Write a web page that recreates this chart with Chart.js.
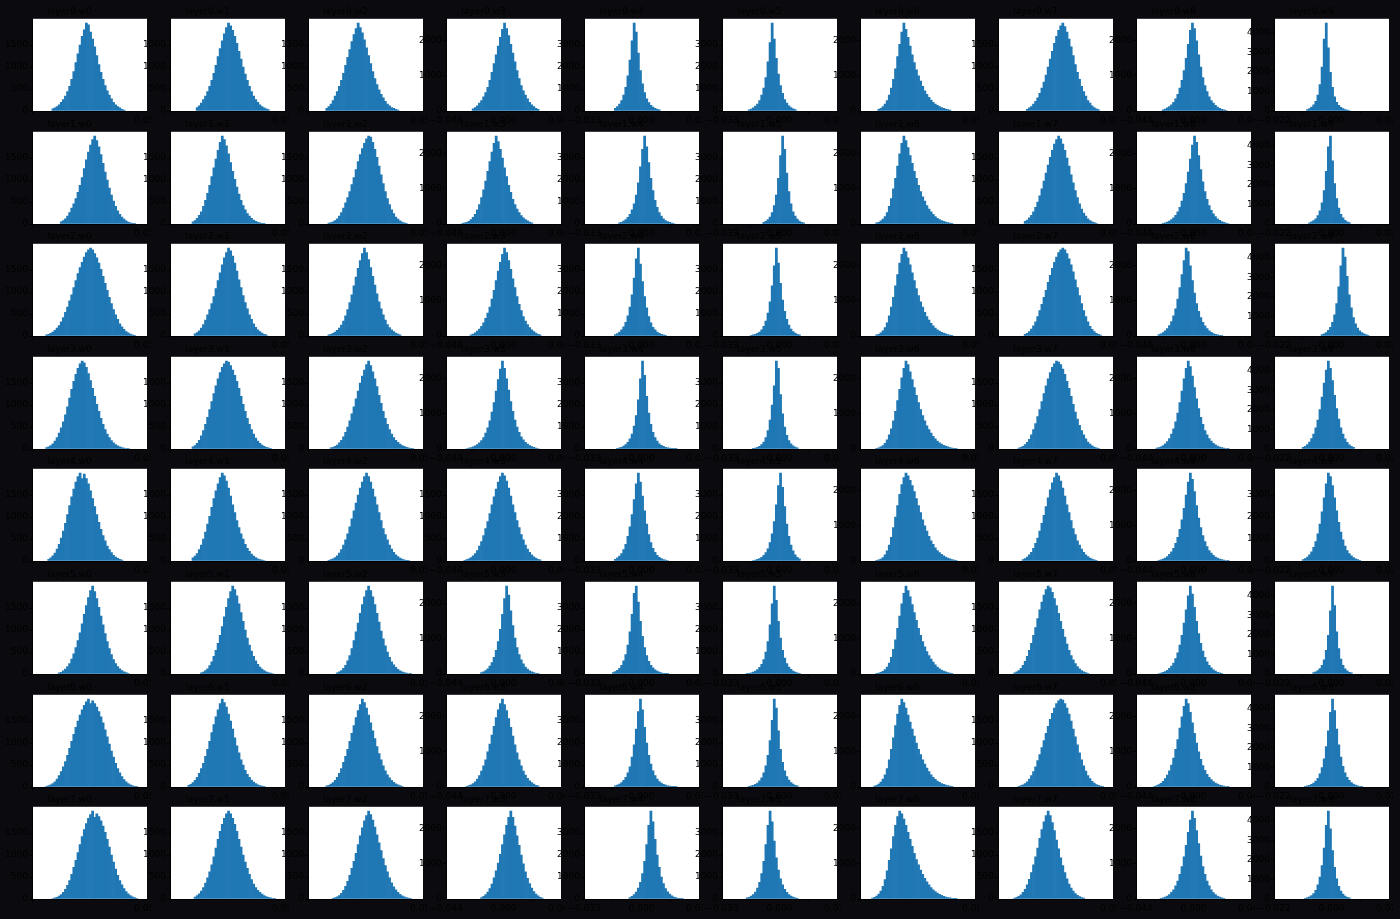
<!DOCTYPE html>
<html>
<head>
<meta charset="utf-8">
<script src="https://cdn.jsdelivr.net/npm/chart.js@4.4.1/dist/chart.umd.min.js"></script>
<style>
  html, body { margin: 0; padding: 0; background: rgb(11,11,15); }
  #wrap { position: relative; width: 1400px; height: 919px; overflow: hidden; background: rgb(11,11,15); }
  canvas { position: absolute; }
</style>
</head>
<body>
<div id="wrap"></div>
<script>
// ---------------- data ----------------
const NROWS = 8, NCOLS = 10, NBINS = 50;

// half-width of each column's histogram range (data units)
const colSpans = [0.05, 0.05, 0.05, 0.04, 0.03, 0.03, 0.05, 0.05, 0.04, 0.02];

// titles of the 80 panels (row-major)
const panelTitles = [];
for (let r = 0; r < NROWS; r++) for (let c = 0; c < NCOLS; c++) panelTitles.push('layer' + r + '.w' + c);

// index of the first listed bin in each panel (row-major)
const firstBins = [
  7,10,6,10,12,10,6,11,10,13,
  11,8,7,5,14,17,5,10,10,14,
  4,9,7,9,12,11,5,10,8,20,
  4,8,8,7,13,12,5,7,7,11,
  5,8,7,6,12,12,5,9,8,11,
  10,12,11,14,11,9,5,5,8,16,
  4,6,6,7,12,10,4,7,6,12,
  7,9,9,14,19,9,3,5,9,12
];

// histogram counts (row-major), starting at firstBins[i]
const histCounts = [
  // row 1
  [50,70,100,140,200,260,340,440,560,720,900,1100,1300,1500,1700,1850,2000,1960,1800,1640,1460,1260,1060,880,720,580,460,360,280,200,140,100,70,40,20],
  [80,120,180,260,340,440,560,700,860,1040,1240,1420,1600,1760,1900,2000,1940,1840,1700,1540,1360,1180,1000,840,700,560,440,340,260,200,140,100,70,50,30],
  [60,100,160,240,340,440,560,700,860,1040,1220,1400,1580,1740,1880,2000,1900,1780,1620,1440,1260,1080,900,740,600,480,380,300,220,160,120,80,60,40,20],
  [62,100,150,225,300,400,525,675,875,1100,1350,1600,1850,2100,2325,2500,2350,2150,1900,1650,1400,1150,925,725,575,450,350,250,175,125,75,50],
  [120,200,320,480,720,1080,1600,2320,3200,4000,3600,2640,1840,1240,840,560,380,260,180,120,80,48],
  [48,88,140,220,320,480,720,1040,1520,2240,3120,4000,3280,2400,1680,1160,800,520,360,240,160,100,60],
  [45,75,125,200,300,450,650,900,1200,1550,1900,2250,2500,2325,2100,1850,1600,1375,1175,1000,850,700,575,475,388,312,250,200,162,125,100,75,55,38,25],
  [40,70,100,160,220,300,400,520,660,820,1000,1180,1360,1540,1700,1840,1940,2000,1920,1800,1640,1460,1260,1060,880,720,560,440,340,240,180,120,80,50,30],
  [35,58,88,125,175,250,350,475,650,875,1150,1500,1900,2300,2500,2350,2000,1600,1250,950,725,550,400,300,225,162,112,75,50,32,20],
  [72,126,202,315,495,810,1350,2250,3690,4500,3240,1980,1215,720,450,292,189,122,76,45,27],
  // row 2
  [50,80,120,180,260,360,460,580,720,880,1060,1260,1460,1640,1800,1920,2000,1900,1760,1580,1380,1180,1000,820,660,520,400,300,220,160,110,70,44,28,16,10],
  [50,80,130,200,280,400,540,700,880,1080,1280,1480,1680,1860,2000,1920,1780,1600,1400,1200,1020,840,680,540,420,320,240,180,130,90,60,40,26,16,10],
  [20,30,50,80,120,180,260,360,480,600,740,900,1060,1240,1420,1580,1720,1840,1940,2000,1980,1860,1700,1520,1320,1120,920,740,580,440,320,240,160,110,70,44,26,14],
  [18,30,50,75,125,188,275,400,550,750,975,1225,1500,1775,2050,2300,2500,2350,2125,1875,1600,1350,1100,900,700,550,425,325,238,175,125,88,58,35],
  [48,80,132,200,300,440,640,920,1320,1880,2600,3400,4000,3520,2800,2080,1520,1080,760,520,360,240,160,108,72,44,24],
  [72,120,200,320,520,840,1320,2080,3120,4000,3400,2320,1480,920,560,360,220,132,80,48],
  [30,50,88,138,212,325,500,725,1000,1300,1650,2000,2300,2500,2375,2175,1950,1725,1500,1300,1100,925,775,650,525,425,350,275,212,162,125,100,75,55,40,28,18],
  [60,90,140,200,280,380,500,640,800,980,1160,1340,1520,1680,1820,1920,2000,1940,1820,1680,1500,1320,1120,940,760,600,460,340,250,180,120,80,50,30,16],
  [20,35,55,82,125,175,250,350,475,650,875,1150,1475,1850,2250,2500,2325,1950,1550,1200,925,700,525,388,288,212,150,105,70,45,28,15],
  [63,108,171,270,428,675,1080,1710,2700,3960,4500,3240,2070,1305,810,495,315,194,117,68],
  // row 3
  [24,40,60,90,130,180,240,320,420,540,660,800,940,1100,1260,1420,1560,1680,1800,1900,1960,2000,1960,1880,1780,1660,1520,1360,1200,1040,880,740,600,480,380,280,210,150,100,70,46,28,16],
  [50,80,120,180,260,360,480,600,740,900,1080,1260,1440,1620,1780,1900,2000,1940,1820,1660,1480,1280,1100,920,760,620,480,380,280,200,140,100,64,40,24],
  [24,40,60,90,130,180,250,340,460,600,760,940,1140,1340,1540,1720,1880,2000,1900,1740,1560,1360,1160,960,780,620,480,360,260,190,140,100,66,42,26],
  [32,55,88,138,200,275,375,500,650,825,1050,1300,1575,1850,2100,2325,2500,2375,2150,1900,1625,1375,1125,900,725,550,425,325,238,175,125,82,50,30],
  [64,112,180,280,420,620,920,1320,1880,2640,3520,4000,3280,2480,1800,1280,880,600,400,280,180,120,80,48,28],
  [28,48,80,120,180,280,440,680,1040,1560,2280,3200,4000,3320,2400,1640,1120,760,500,320,200,128,80,48],
  [30,50,88,150,238,375,575,825,1100,1425,1750,2075,2325,2500,2400,2225,2025,1800,1575,1350,1150,975,825,675,550,450,362,288,225,175,138,105,80,60,42,28,18],
  [36,60,100,160,230,320,440,580,720,880,1040,1220,1380,1540,1680,1800,1900,1960,2000,1960,1880,1760,1620,1460,1280,1100,920,740,580,440,320,220,150,100,60,36,20],
  [40,65,100,150,212,300,412,575,775,1050,1375,1750,2150,2500,2400,2000,1575,1225,925,700,525,388,288,212,150,105,72,50,32,20,12],
  [68,112,180,292,450,698,1080,1665,2520,3600,4500,4050,3060,2115,1440,945,630,405,270,171,108,68,40],
  // row 4
  [30,50,80,120,180,260,360,480,620,780,960,1160,1360,1540,1700,1840,1940,2000,1960,1860,1720,1560,1380,1200,1020,860,700,560,440,340,260,190,140,100,70,48,32,20,12,6],
  [50,80,130,200,300,420,560,720,900,1080,1260,1440,1600,1740,1860,1940,2000,1980,1900,1800,1680,1540,1380,1200,1020,860,700,560,440,340,250,180,130,90,60,40,24,14],
  [24,40,60,90,140,200,280,380,500,640,800,960,1140,1320,1500,1660,1800,1920,2000,1900,1760,1600,1420,1220,1040,860,700,560,440,340,260,200,150,110,80,60,40,28,18,10],
  [15,25,40,60,88,125,175,238,325,450,600,800,1050,1325,1650,1975,2275,2500,2300,2000,1675,1350,1075,825,625,475,350,262,188,138,100,70,45,28,15],
  [28,48,80,128,200,300,460,680,1040,1520,2240,3200,4000,3360,2400,1640,1120,760,520,360,240,168,120,80,56,40,28,16,8],
  [20,40,72,120,200,320,520,840,1320,2000,2880,4000,3680,2480,1600,1000,620,380,240,144,88,52],
  [20,35,60,100,162,262,400,575,800,1075,1375,1700,2025,2300,2500,2400,2200,1975,1750,1525,1325,1125,950,800,662,550,450,362,288,225,175,138,105,80,60,42,28,18,10],
  [20,36,60,100,150,220,320,440,580,740,900,1080,1260,1440,1600,1740,1860,1940,2000,1980,1920,1820,1700,1540,1380,1200,1020,840,680,540,420,320,230,160,110,70,44,26,14],
  [25,40,65,100,150,212,300,425,575,775,1025,1325,1650,2000,2300,2500,2350,2075,1750,1425,1150,900,700,525,400,300,225,162,118,82,58,38,25,15,8],
  [81,135,225,360,540,765,1080,1485,2025,2655,3375,4050,4500,4140,3510,2745,2070,1530,1080,765,518,338,216,135,81],
  // row 5
  [40,70,120,180,270,380,520,680,860,1060,1260,1460,1640,1800,1920,2000,1880,1980,1880,1760,1600,1420,1240,1060,880,720,580,460,340,260,190,130,90,60,36,20],
  [70,110,170,260,360,500,660,840,1020,1220,1420,1600,1760,1900,2000,1940,1820,1660,1480,1280,1100,920,760,620,500,380,290,220,160,110,76,50,32,20,12],
  [18,30,50,80,120,180,260,360,480,620,780,960,1140,1320,1500,1660,1800,1920,2000,1920,1800,1640,1460,1280,1100,920,740,600,480,360,270,200,140,100,68,44,28,16,8],
  [16,30,50,80,120,170,240,340,440,580,740,900,1080,1280,1460,1640,1800,1920,2000,1940,1820,1660,1480,1280,1100,920,760,600,480,360,270,200,140,96,64,40,24],
  [80,140,220,340,520,760,1120,1560,2120,2800,3520,4000,3600,2960,2280,1680,1200,840,580,400,260,168,108,68,40,24],
  [24,44,72,112,172,260,380,560,840,1240,1800,2560,3440,4000,3360,2480,1680,1120,720,460,280,168,96],
  [18,32,58,100,175,288,450,675,950,1250,1575,1900,2175,2375,2500,2425,2300,2150,1975,1775,1575,1375,1175,1000,850,700,575,475,375,300,238,188,145,110,82,60,42,28,18],
  [32,56,90,140,200,290,400,520,680,860,1040,1240,1440,1620,1780,1900,2000,1940,1820,1660,1480,1280,1100,920,740,600,460,360,270,200,140,100,66,42,26,14],
  [18,32,52,82,125,188,262,362,500,675,900,1175,1500,1875,2250,2500,2325,1975,1575,1225,950,725,550,412,300,225,162,115,80,55,38,25,15,8],
  [64,112,180,280,420,620,880,1240,1680,2240,2880,3520,4000,3840,3440,2880,2280,1760,1320,960,680,480,340,240,160,104,64,36],
  // row 6
  [24,40,70,110,170,240,340,460,600,760,940,1140,1360,1560,1740,1900,2000,1880,1720,1520,1320,1120,920,740,580,440,330,240,170,120,80,52,32,18],
  [26,46,76,120,190,280,400,540,700,880,1080,1300,1520,1720,1880,2000,1920,1780,1600,1400,1200,1000,820,660,520,400,300,220,160,110,76,50,32,20,12],
  [26,48,80,130,200,300,420,580,760,960,1160,1380,1580,1760,1900,2000,1900,1760,1580,1380,1180,980,800,640,500,380,280,210,150,106,74,50,32,20,12,6],
  [38,62,100,150,225,325,475,675,925,1275,1700,2150,2500,2250,1800,1375,1025,750,550,400,288,200,138,92,60,38,22,12],
  [64,108,168,260,400,600,880,1320,1920,2720,3680,4000,3280,2400,1720,1200,840,580,400,280,192,128,84,56,36,20,12],
  [20,36,56,88,132,200,300,440,660,1000,1480,2240,3200,4000,3360,2400,1640,1080,720,480,320,208,136,88,56,32],
  [12,25,45,75,125,200,312,475,700,975,1300,1650,2000,2300,2500,2375,2200,1975,1750,1525,1300,1100,925,775,638,525,425,338,262,200,150,112,82,60,42,28,18],
  [26,48,80,130,200,290,400,540,700,880,1060,1260,1460,1640,1800,1920,2000,1960,1860,1720,1560,1380,1200,1020,840,680,540,420,320,240,170,120,80,52,32,18],
  [15,28,45,70,108,158,225,312,438,600,825,1100,1450,1825,2225,2500,2275,1900,1500,1150,875,650,475,350,250,175,120,80,50,30,18],
  [68,112,180,284,450,720,1215,1980,3240,4500,3510,2160,1305,765,450,270,158,90,54],
  // row 7
  [16,30,50,80,120,180,260,350,460,580,720,880,1040,1200,1360,1500,1640,1760,1860,1940,2000,1900,1960,1900,1820,1720,1600,1460,1300,1140,980,820,680,540,420,320,240,170,120,80,52,32,18,10],
  [36,60,100,150,220,310,420,540,700,860,1040,1240,1420,1600,1760,1900,2000,1920,1820,1660,1500,1320,1120,940,780,620,500,380,290,220,160,114,80,52,32,20,10],
  [24,40,64,100,150,220,310,420,560,700,860,1040,1220,1400,1580,1740,1880,2000,1920,1800,1640,1460,1280,1100,920,760,620,480,370,280,210,150,106,72,48,30,16],
  [20,38,62,100,150,225,325,450,600,775,1000,1225,1475,1725,1975,2200,2375,2500,2350,2175,1950,1700,1450,1200,975,775,600,450,338,250,175,125,82,50,30],
  [52,84,132,200,300,440,640,920,1360,1920,2640,3440,4000,3520,2720,2000,1440,1040,740,520,360,252,176,120,84,56,40,28,16,8],
  [28,48,76,120,180,280,420,640,960,1440,2120,3040,4000,3600,2560,1720,1120,740,480,312,200,128,80,48],
  [25,45,80,138,225,350,525,775,1075,1400,1750,2075,2325,2500,2400,2250,2050,1850,1650,1450,1250,1075,925,775,650,538,438,350,275,218,170,130,100,75,55,40,28,18],
  [16,30,50,80,120,180,260,350,460,600,740,900,1060,1220,1380,1540,1680,1800,1900,1960,2000,1980,1900,1800,1660,1500,1320,1140,960,780,620,480,360,260,190,130,88,56,36,20,10],
  [22,40,68,108,162,238,338,462,625,825,1075,1350,1675,2000,2300,2500,2375,2125,1825,1525,1250,1000,788,612,475,362,275,208,155,112,80,55,38,25,15,8],
  [36,58,90,135,202,306,450,675,990,1440,2070,2880,3825,4500,3915,2970,2160,1530,1058,720,495,338,225,148,99,63,40,22],
  // row 8
  [12,24,40,64,100,150,220,310,420,560,720,880,1060,1240,1420,1580,1720,1840,1920,2000,1860,1940,1880,1780,1660,1520,1360,1180,1000,840,680,540,420,320,240,170,120,80,52,32,18],
  [46,76,120,180,260,360,480,620,780,960,1160,1360,1540,1700,1840,1940,2000,1940,1840,1700,1540,1360,1180,1000,840,700,560,440,340,260,200,150,110,80,56,38,24,14,8],
  [16,30,50,80,130,200,290,400,540,700,860,1040,1240,1440,1620,1780,1900,2000,1920,1800,1640,1460,1280,1100,920,760,620,480,370,280,210,150,106,74,50,32,20,10],
  [42,75,125,200,300,425,600,800,1025,1275,1550,1825,2100,2325,2500,2325,2075,1800,1525,1250,1000,775,588,438,312,212,138,88,50,28],
  [68,120,200,320,500,760,1160,1720,2480,3360,4000,3520,2720,2000,1440,1000,700,480,328,220,144,92,60,36,20,12],
  [48,80,128,200,320,500,760,1160,1720,2480,3360,4000,3520,2640,1880,1320,920,640,440,300,200,132,84,52,28],
  [25,45,80,138,225,362,550,800,1100,1425,1775,2100,2350,2500,2425,2275,2100,1900,1700,1500,1300,1125,975,825,700,588,488,400,325,262,212,170,132,102,78,58,42,30,20,12,8],
  [20,36,60,96,150,220,320,450,600,780,960,1160,1380,1580,1760,1900,2000,1900,1740,1560,1340,1140,940,760,600,460,340,250,180,126,86,56,34,20],
  [18,32,52,82,125,188,262,375,512,700,925,1200,1525,1900,2250,2500,2300,1950,1575,1225,925,700,512,375,262,182,125,82,52,32,18],
  [40,68,112,180,284,450,720,1125,1710,2610,3780,4500,3600,2475,1620,1035,652,405,248,148,90,54]
];

// ---------------- layout ----------------
const PANEL_LEFT0 = 32, PANEL_DX = 138, PANEL_TOP0 = 19, PANEL_DY = 112.6;
const PANEL_W = 115, PANEL_H = 92;
const PAD_L = 40, PAD_R = 4, PAD_T = 17, PAD_B = 16;
const FONT = "'DejaVu Sans', sans-serif";
const INK = '#000000';
const BAR = '#1f77b4';

Chart.defaults.color = INK;
Chart.defaults.borderColor = INK;
Chart.defaults.font.family = FONT;

const whiteArea = {
  id: 'whiteArea',
  beforeDraw(chart) {
    const a = chart.chartArea, ctx = chart.ctx;
    ctx.save();
    ctx.fillStyle = '#ffffff';
    ctx.fillRect(a.left, a.top, a.right - a.left, a.bottom - a.top);
    ctx.restore();
  }
};

function keepNiceTicks(scale) {
  const t = scale.ticks;
  if (t.length < 3) return;
  const step = t[2].value - t[1].value;
  scale.ticks = t.filter(k => Math.abs(k.value / step - Math.round(k.value / step)) < 1e-6);
}
const fmtX = v => (v < 0 ? '\u2212' : '') + Math.abs(v).toFixed(3);
const fmtY = v => String(Math.round(v));

const wrap = document.getElementById('wrap');

for (let r = 0; r < NROWS; r++) {
  for (let c = 0; c < NCOLS; c++) {
    const i = r * NCOLS + c;
    const span = colSpans[c];
    const lo = -span, hi = span;
    const bw = (hi - lo) / NBINS;
    const pts = histCounts[i].map((v, k) => ({ x: lo + (firstBins[i] + k + 0.5) * bw, y: v }));
    const ymax = Math.max(...histCounts[i]) * 1.05;

    const cv = document.createElement('canvas');
    const W = PANEL_W + PAD_L + PAD_R, H = PANEL_H + PAD_T + PAD_B;
    cv.width = W; cv.height = H;
    cv.style.left = (PANEL_LEFT0 + c * PANEL_DX - PAD_L) + 'px';
    cv.style.top = (PANEL_TOP0 + r * PANEL_DY - PAD_T) + 'px';
    cv.style.width = W + 'px'; cv.style.height = H + 'px';
    wrap.appendChild(cv);

    new Chart(cv, {
      type: 'bar',
      data: { datasets: [{ data: pts, backgroundColor: BAR, borderWidth: 0, barPercentage: 1, categoryPercentage: 1 }] },
      options: {
        responsive: false, animation: false, events: [],
        color: INK,
        layout: { padding: { left: 0, right: PAD_R, top: 0, bottom: 0 } },
        plugins: {
          legend: { display: false },
          tooltip: { enabled: false },
          title: { display: true, text: panelTitles[i], color: INK, font: { family: FONT, size: 9, weight: 'normal', lineHeight: 1.2 }, padding: { top: 4, bottom: 2 } }
        },
        scales: {
          x: {
            type: 'linear', offset: false,
            min: lo - 0.05 * (hi - lo), max: hi + 0.05 * (hi - lo),
            grid: { display: true, drawOnChartArea: false, drawTicks: true, tickLength: 3, color: INK },
            border: { color: INK },
            ticks: { color: INK, font: { family: FONT, size: 9 }, maxRotation: 0, autoSkip: false, maxTicksLimit: 5, padding: 1, callback: fmtX },
            afterBuildTicks: keepNiceTicks,
            afterFit(s) { s.height = PAD_B; s.paddingLeft = 0; s.paddingRight = 0; }
          },
          y: {
            min: 0, max: ymax,
            grid: { display: true, drawOnChartArea: false, drawTicks: true, tickLength: 3, color: INK },
            border: { color: INK },
            ticks: { color: INK, font: { family: FONT, size: 9 }, maxTicksLimit: 6, autoSkip: false, padding: 1, callback: fmtY },
            afterBuildTicks: keepNiceTicks,
            afterFit(s) { s.width = PAD_L; s.paddingTop = 0; s.paddingBottom = 0; }
          }
        }
      },
      plugins: [whiteArea]
    });
  }
}
</script>
</body>
</html>
